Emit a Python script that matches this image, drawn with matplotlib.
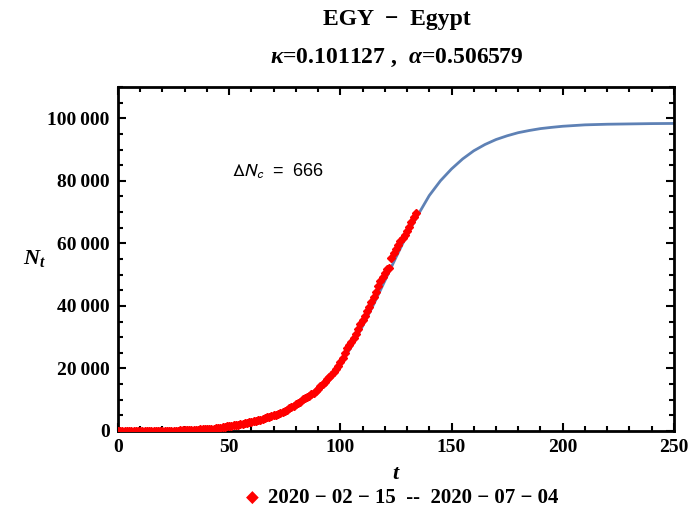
import matplotlib
matplotlib.use('Agg')
import matplotlib.pyplot as plt
from matplotlib.ticker import MultipleLocator, FuncFormatter

plt.rcParams['font.family'] = ['Liberation Serif', 'DejaVu Serif']
plt.rcParams['mathtext.fontset'] = 'custom'
plt.rcParams['mathtext.rm'] = 'Liberation Serif:bold'
plt.rcParams['mathtext.it'] = 'Liberation Serif:italic:bold'
plt.rcParams['mathtext.bf'] = 'Liberation Serif:bold'

# observed cumulative cases, one per day from t = 0
cases = [1, 1, 1, 1, 1, 1, 1, 1, 1, 1, 1, 1, 2, 2, 2, 2, 2, 3, 15, 49,
         55, 59, 60, 67, 80, 109, 110, 150, 196, 196, 256, 285, 294, 327, 366, 402, 456, 495, 536, 576,
         609, 656, 710, 779, 865, 985, 1070, 1173, 1322, 1450, 1560, 1699, 1794, 1939, 2065, 2190, 2350, 2505, 2673, 2844,
         3032, 3144, 3333, 3490, 3659, 3891, 4092, 4319, 4534, 4782, 5042, 5268, 5537, 5895, 6193, 6465, 6813, 7201, 7588, 7981,
         8476, 8964, 9400, 10093, 10431, 10829, 11228, 11719, 12229, 12764, 13484, 14229, 15003, 15786, 16513, 17265, 17967, 18756, 19666, 20793,
         22082, 23449, 24985, 26384, 27536, 28615, 29767, 31115, 32612, 34079, 35444, 36829, 38284, 39726, 41303, 42980, 44598, 46289, 47856, 49219,
         50437, 51697, 52211, 55233, 56809, 58141, 59561, 60713, 61755, 62755, 63923, 65188, 66754, 68311, 69814]
days = list(range(len(cases)))

# fitted curve
fit_t = [0, 10, 20, 30, 40, 50, 55, 60, 65, 70, 75, 80, 85, 90, 95, 100,
         105, 110, 115, 120, 125, 130, 135, 140, 145, 150, 155, 160, 165, 170,
         175, 180, 185, 190, 195, 200, 210, 220, 230, 240, 250]
fit_n = [20, 60, 160, 380, 800, 1500, 2050, 2750, 3700, 4950, 6500, 8500, 10800, 13500, 17000, 21300,
         27000, 33500, 40500, 48000, 55500, 62800, 69200, 75300, 80000, 83800, 87000, 89600, 91600, 93200,
         94400, 95400, 96100, 96700, 97100, 97450, 97900, 98100, 98200, 98300, 98350]

fig = plt.figure(figsize=(6.89, 5.14), dpi=100)
ax = fig.add_axes([0.1713, 0.1615, 0.8067, 0.6692])

ax.plot(fit_t, fit_n, color='#5E81B5', lw=2, zorder=2)
ax.plot(days, cases, ls='none', marker='D', ms=3.8, color='red', mec='red', zorder=3)

ax.set_xlim(0, 250)
ax.set_ylim(0, 110000)
ax.xaxis.set_major_locator(MultipleLocator(50))
ax.xaxis.set_minor_locator(MultipleLocator(10))
ax.yaxis.set_major_locator(MultipleLocator(20000))
ax.yaxis.set_minor_locator(MultipleLocator(5000))
ax.yaxis.set_major_formatter(FuncFormatter(
    lambda v, p: '{:,}'.format(int(v)).replace(',', '\u2009')))

ax.tick_params(which='both', direction='in', top=True, right=True, width=1.5,
               labelsize=14, pad=6)
ax.tick_params(which='major', length=6)
ax.tick_params(which='minor', length=3.5)
for lab in ax.get_xticklabels() + ax.get_yticklabels():
    lab.set_fontweight('bold')
for s in ax.spines.values():
    s.set_linewidth(2)

ax.set_xlabel('$t$', fontsize=16, labelpad=6)
ax.set_ylabel('$N_t$', fontsize=16, rotation=0)
ax.yaxis.set_label_coords(-0.15, 0.47)

ax.text(0.205, 0.74, r'$\Delta N_c$  =  666', transform=ax.transAxes,
        fontsize=13, family='Liberation Sans', math_fontfamily='stixsans')

fig.text(0.576, 0.962, 'EGY  \u2212  Egypt', ha='center', va='center',
         fontsize=17, fontweight='bold')
fig.text(0.576, 0.888, r'$\kappa$=0.101127 ,  $\alpha$=0.506579', ha='center',
         va='center', fontsize=17, fontweight='bold')

fig.text(0.366, 0.032, '\u25c6', color='red', ha='center', va='center', fontsize=12,
         family=['DejaVu Sans'])
fig.text(0.389, 0.032, '2020 \u2212 02 \u2212 15  --  2020 \u2212 07 \u2212 04',
         ha='left', va='center', fontsize=15, fontweight='bold')

fig.savefig('out.png', dpi=100)
